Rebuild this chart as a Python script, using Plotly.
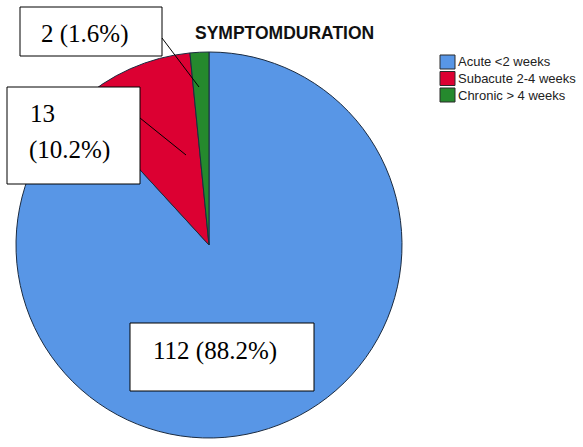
import plotly.graph_objects as go

# Symptom duration groups and patient counts
categories = ["Acute <2 weeks", "Subacute 2-4 weeks", "Chronic > 4 weeks"]
counts = [112, 13, 2]
colors = ["#5896E6", "#DC0032", "#25892D"]
title = "SYMPTOMDURATION"

W, H = 583, 447
total = sum(counts)
labels = [f"{c} ({c / total * 100:.1f}%)" for c in counts]


def fx(x):
    return x / W


def fy(y):
    return 1 - y / H


# Pie placement (pixels)
cx, cy, r = 209, 245, 193

fig = go.Figure(
    go.Pie(
        labels=categories,
        values=counts,
        sort=False,
        direction="clockwise",
        rotation=0,
        marker=dict(colors=colors, line=dict(color="#1B2B40", width=1)),
        textinfo="none",
        hoverinfo="label+value+percent",
        showlegend=False,
        domain=dict(x=[fx(cx - r), fx(cx + r)], y=[fy(cy + r), fy(cy - r)]),
    )
)

shapes = []
annotations = []

# Title
annotations.append(dict(
    x=fx(284), y=fy(33), xref="paper", yref="paper", showarrow=False,
    text=f"<b>{title}</b>", xanchor="center", yanchor="middle",
    font=dict(family="Liberation Sans, Arial", size=17.5, color="#111111"),
))

# Legend: swatches and category names
for i, (name, col) in enumerate(zip(categories, colors)):
    y0 = 55 + 16.5 * i
    shapes.append(dict(
        type="rect", xref="paper", yref="paper",
        x0=fx(440), x1=fx(455), y0=fy(y0), y1=fy(y0 + 14),
        fillcolor=col, line=dict(color="#2A2A2A", width=1),
    ))
    annotations.append(dict(
        x=fx(456), y=fy(y0 + 7), xref="paper", yref="paper", showarrow=False,
        text=name, xanchor="left", yanchor="middle",
        font=dict(family="Liberation Sans, Arial", size=13, color="#222222"),
    ))

# Value label boxes (x0, y0, x1, y1) in pixels
boxes = [(130, 323, 314, 391), (7, 87, 140, 184), (20, 7, 162, 56)]
for (x0, y0, x1, y1) in boxes:
    shapes.append(dict(
        type="rect", xref="paper", yref="paper",
        x0=fx(x0), x1=fx(x1), y0=fy(y0), y1=fy(y1),
        fillcolor="white", line=dict(color="black", width=1),
    ))

# Leader lines from boxes into the small slices
leaders = [((140, 118), (186, 155)), ((162, 38), (199, 87))]
for (a, b) in leaders:
    shapes.append(dict(
        type="line", xref="paper", yref="paper",
        x0=fx(a[0]), y0=fy(a[1]), x1=fx(b[0]), y1=fy(b[1]),
        line=dict(color="black", width=1),
    ))

serif = dict(family="Liberation Serif, Times New Roman", size=25, color="black")


def add_text(txt, x, y):
    annotations.append(dict(
        x=fx(x), y=fy(y), xref="paper", yref="paper", showarrow=False,
        text=txt, xanchor="left", yanchor="middle", font=serif,
    ))


add_text(labels[0], 151, 351)
first, second = labels[1].split(" ")
add_text(first, 28, 113)
add_text(second, 27, 150)
add_text(labels[2], 39, 34)

fig.update_layout(
    width=W, height=H,
    margin=dict(l=0, r=0, t=0, b=0),
    paper_bgcolor="white",
    plot_bgcolor="white",
    shapes=shapes,
    annotations=annotations,
)

fig.write_html("out.html")
